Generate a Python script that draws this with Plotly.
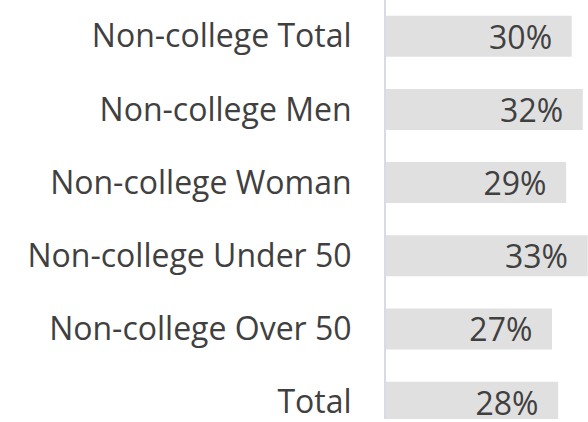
import plotly.graph_objects as go

categories = ["Non-college Total", "Non-college Men", "Non-college Woman",
              "Non-college Under 50", "Non-college Over 50", "Total"]
values = [30.2, 32.0, 29.3, 32.8, 27.0, 28.0]
value_labels = ["30%", "32%", "29%", "33%", "27%", "28%"]

NBSP = "\u00a0"
fig = go.Figure(go.Bar(
    x=values,
    y=categories,
    orientation="h",
    marker=dict(color="#e0e0e0", line=dict(width=0)),
    text=[t + NBSP * 2 for t in value_labels],
    textposition="inside",
    insidetextanchor="end",
    textfont=dict(family="Open Sans", size=32, color="#404040"),
    constraintext="none",
    cliponaxis=False,
))

fig.update_layout(
    width=588, height=422,
    margin=dict(l=386, r=0, t=0, b=0),
    paper_bgcolor="white", plot_bgcolor="white",
    bargap=0.44,
    showlegend=False,
    font=dict(family="Open Sans", color="#404040"),
)
fig.update_xaxes(range=[0, 32.85], visible=False, showgrid=False, zeroline=False)
fig.update_yaxes(
    range=[5.23, -0.495],
    showline=True, linecolor="#d6dce5", linewidth=2,
    showgrid=False, zeroline=False,
    ticks="", ticklabelstandoff=26,
    tickfont=dict(family="Open Sans", size=32, color="#404040"),
)

fig.write_html("out.html", config={"displayModeBar": False},
               post_script="document.body.style.margin='0';")
